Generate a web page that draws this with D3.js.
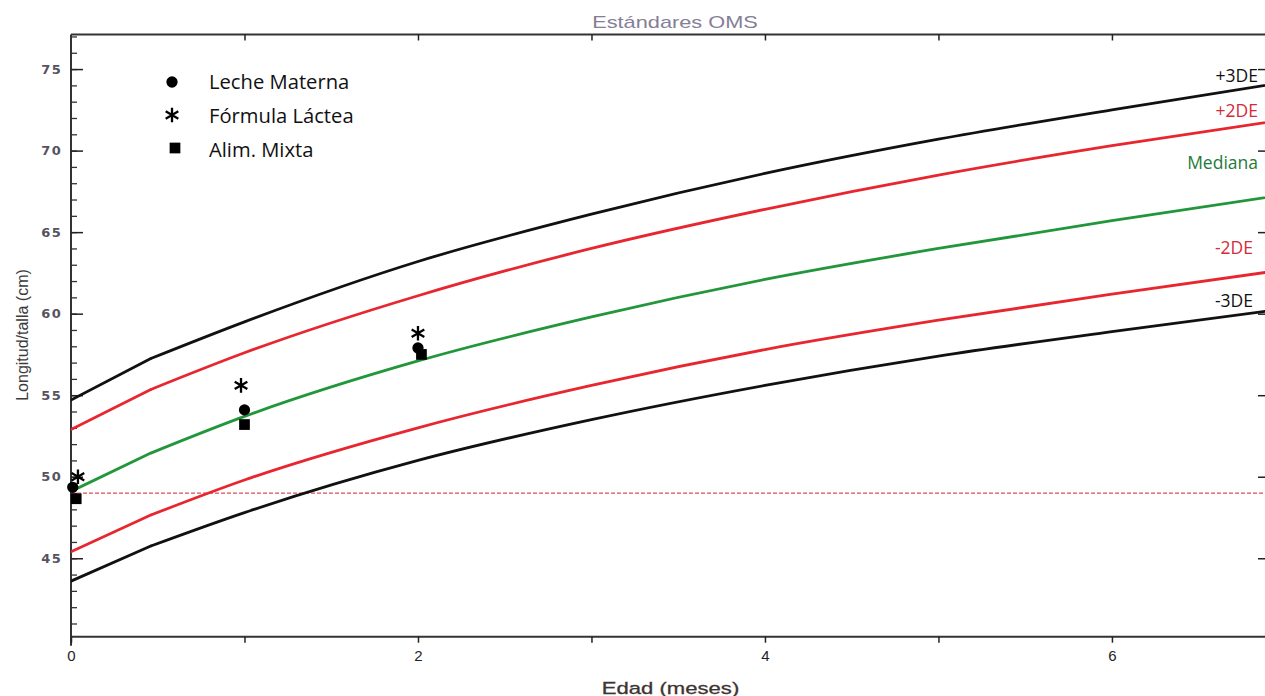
<!DOCTYPE html>
<html><head><meta charset="utf-8">
<script src="https://cdn.jsdelivr.net/npm/d3@7"></script>
<style>html,body{margin:0;padding:0;background:#fff;}svg{display:block;}</style>
</head><body>
<svg id="chart" width="1265" height="696"></svg>
<script>
// ---- Data (WHO length-for-age standards, girls) ----
const ageMonths = [0, 0.46, 1, 2, 3, 4, 5, 6, 7];
const sdNeg3 = [43.6, 45.75, 47.8, 51.0, 53.5, 55.6, 57.4, 58.9, 60.3];
const sdNeg2 = [45.4, 47.65, 49.8, 53.0, 55.6, 57.8, 59.6, 61.2, 62.7];
const median = [49.1, 51.45, 53.7, 57.1, 59.8, 62.1, 64.0, 65.7, 67.3];
const sdPos2 = [52.9, 55.35, 57.6, 61.1, 64.0, 66.4, 68.5, 70.3, 71.9];
const sdPos3 = [54.7, 57.25, 59.5, 63.2, 66.1, 68.6, 70.7, 72.5, 74.2];
const curveNames = ["-3DE", "-2DE", "Mediana", "+2DE", "+3DE"];
const curveColors = ["#111111", "#e8262f", "#22963a", "#e8262f", "#111111"];
const labelColors = ["#111111", "#d42a3a", "#1f7a3a", "#d42a3a", "#111111"];

const refLength = 49.0;

// Observed groups
const groupNames = ["Leche Materna", "Fórmula Láctea", "Alim. Mixta"];
const lecheX = [0.01, 1.0, 2.0];
const lecheY = [49.35, 54.1, 57.9];
const formulaX = [0.04, 0.98, 2.0];
const formulaY = [50.0, 55.6, 58.8];
const mixtaX = [0.03, 1.0, 2.02];
const mixtaY = [48.65, 53.2, 57.5];

const xTickLabels = [0, 2, 4, 6];
const yTickLabels = [45, 50, 55, 60, 65, 70, 75];

// ---- Layout ----
const svg = d3.select("#chart");
const L = 71, R = 1266, T = 34.5, B = 636.7;
const x = d3.scaleLinear().domain([0, 6.888]).range([L, R]);
const y = d3.scaleLinear().domain([40.19, 77.12]).range([B, T]);

svg.append("defs").append("clipPath").attr("id", "clip")
  .append("rect").attr("x", L).attr("y", T).attr("width", R - L).attr("height", B - T);

// Title
svg.append("text").attr("transform", "translate(675,27.5) scale(1.28,1)").attr("text-anchor", "middle")
  .attr("font-family", "Liberation Sans, Arial, sans-serif").attr("font-size", 17)
  .attr("fill", "#857e96").text("Estándares OMS");

// Axis label X
svg.append("text").attr("transform", "translate(670.5,693.5) scale(1.3,1)").attr("text-anchor", "middle")
  .attr("font-family", "Liberation Sans, Arial, sans-serif").attr("font-size", 17)
  .attr("fill", "#3e3432").attr("stroke", "#3e3432").attr("stroke-width", 0.3).text("Edad (meses)");

// Axis label Y
svg.append("text").attr("transform", "translate(28,335) rotate(-90)").attr("text-anchor", "middle")
  .attr("font-family", "Liberation Sans Narrow, Arial Narrow, sans-serif").attr("font-size", 16)
  .attr("fill", "#3a3a3a").text("Longitud/talla (cm)");

// Frame lines
const frame = svg.append("g").attr("stroke", "#333").attr("stroke-width", 2);
frame.append("line").attr("x1", L).attr("x2", L).attr("y1", T).attr("y2", B + 9);
frame.append("line").attr("x1", L).attr("x2", R).attr("y1", B).attr("y2", B);
frame.append("line").attr("x1", L).attr("x2", R).attr("y1", T).attr("y2", T);
frame.append("line").attr("x1", R).attr("x2", R).attr("y1", T).attr("y2", B);

// Left axis (ticks inward)
const leftMinor = d3.axisRight(y).tickValues(d3.range(41, 78, 1)).tickSize(6).tickFormat("");
svg.append("g").attr("transform", `translate(${L},0)`).call(leftMinor)
  .call(g => g.select(".domain").remove())
  .call(g => g.selectAll("line").attr("stroke", "#333").attr("stroke-width", 1.3));
const leftMajor = d3.axisRight(y).tickValues(yTickLabels).tickSize(12).tickFormat("");
svg.append("g").attr("transform", `translate(${L},0)`).call(leftMajor)
  .call(g => g.select(".domain").remove())
  .call(g => g.selectAll("line").attr("stroke", "#222").attr("stroke-width", 1.5));
const leftLabels = d3.axisLeft(y).tickValues(yTickLabels).tickSize(0).tickPadding(9).tickFormat(d3.format("d"));
svg.append("g").attr("transform", `translate(${L},0)`).call(leftLabels)
  .call(g => g.select(".domain").remove())
  .call(g => g.selectAll("text").attr("font-family", "DejaVu Sans, sans-serif").attr("font-size", 13)
    .attr("font-weight", "bold").attr("letter-spacing", "1.3px").attr("fill", "#55535f"));

// Right axis (ticks inward, majors)
const rightMajor = d3.axisLeft(y).tickValues(yTickLabels).tickSize(8).tickFormat("");
svg.append("g").attr("transform", `translate(${R},0)`).call(rightMajor)
  .call(g => g.select(".domain").remove())
  .call(g => g.selectAll("line").attr("stroke", "#222").attr("stroke-width", 1.5));

// Bottom axis (ticks outward)
const bottomAxis = d3.axisBottom(x).tickValues(d3.range(0, 7, 1)).tickSize(6).tickPadding(8)
  .tickFormat(d => xTickLabels.includes(d) ? d : "");
svg.append("g").attr("transform", `translate(0,${B})`).call(bottomAxis)
  .call(g => g.select(".domain").remove())
  .call(g => g.selectAll("line").attr("stroke", "#222").attr("stroke-width", 1.5))
  .call(g => g.selectAll("text").attr("font-family", "Liberation Sans, Arial, sans-serif")
    .attr("font-size", 15).attr("fill", "#1e1e1e"));

// Top axis (ticks inward)
const topAxis = d3.axisBottom(x).tickValues(d3.range(1, 7, 1)).tickSize(6).tickFormat("");
svg.append("g").attr("transform", `translate(0,${T})`).call(topAxis)
  .call(g => g.select(".domain").remove())
  .call(g => g.selectAll("line").attr("stroke", "#222").attr("stroke-width", 1.5));

// Reference dashed line
const plot = svg.append("g").attr("clip-path", "url(#clip)");
plot.append("line").attr("x1", x(0)).attr("x2", x(7)).attr("y1", y(refLength)).attr("y2", y(refLength))
  .attr("stroke", "#d8505a").attr("stroke-width", 1.2).attr("stroke-dasharray", "4,2");

// Curves: linear first segment (birth to 2 weeks), smooth afterwards
const curves = [sdNeg3, sdNeg2, median, sdPos2, sdPos3];
const lineLin = d3.line().x(d => x(d[0])).y(d => y(d[1])).curve(d3.curveLinear);
const lineSm = d3.line().x(d => x(d[0])).y(d => y(d[1])).curve(d3.curveMonotoneX);
curves.forEach((vals, i) => {
  const pts = ageMonths.map((a, j) => [a, vals[j]]);
  plot.append("path").attr("d", lineLin(pts.slice(0, 2))).attr("fill", "none")
    .attr("stroke", curveColors[i]).attr("stroke-width", 2.8).attr("stroke-linecap", "round");
  plot.append("path").attr("d", lineSm(pts.slice(1))).attr("fill", "none")
    .attr("stroke", curveColors[i]).attr("stroke-width", 2.8).attr("stroke-linejoin", "round");
});

// Curve labels (right side)
const labelPos = [
  {i: 4, x: 1258, y: 82}, {i: 3, x: 1258, y: 117}, {i: 2, x: 1258, y: 169},
  {i: 1, x: 1253, y: 254}, {i: 0, x: 1253, y: 307}
];
labelPos.forEach(p => {
  svg.append("text").attr("x", p.x).attr("y", p.y).attr("text-anchor", "end")
    .attr("font-family", "Open Sans, Noto Sans, sans-serif").attr("font-size", 17.5)
    .attr("fill", labelColors[p.i]).text(curveNames[p.i]);
});

// Markers
const sym = (type, size) => d3.symbol().type(type).size(size)();
const marks = svg.append("g");
function drawGroup(xs, ys, type, size, fill, stroke, sw) {
  marks.selectAll(null).data(xs.map((v, j) => [v, ys[j]])).enter().append("path")
    .attr("transform", d => `translate(${x(d[0])},${y(d[1])})`)
    .attr("d", sym(type, size)).attr("fill", fill).attr("stroke", stroke).attr("stroke-width", sw);
}
drawGroup(lecheX, lecheY, d3.symbolCircle, 100, "#000", "none", 0);
drawGroup(mixtaX, mixtaY, d3.symbolSquare, 115, "#000", "none", 0);
drawGroup(formulaX, formulaY, d3.symbolAsterisk, 150, "none", "#000", 2.3);

// Legend
const legend = svg.append("g");
const legItems = [
  {name: groupNames[0], type: d3.symbolCircle, size: 100, fill: "#000", stroke: "none", sw: 0, mx: 172, my: 82, ty: 88.5},
  {name: groupNames[1], type: d3.symbolAsterisk, size: 150, fill: "none", stroke: "#000", sw: 2.3, mx: 172, my: 115, ty: 123},
  {name: groupNames[2], type: d3.symbolSquare, size: 115, fill: "#000", stroke: "none", sw: 0, mx: 175, my: 148, ty: 157}
];
legItems.forEach(it => {
  legend.append("path").attr("transform", `translate(${it.mx},${it.my})`)
    .attr("d", sym(it.type, it.size)).attr("fill", it.fill).attr("stroke", it.stroke).attr("stroke-width", it.sw);
  legend.append("text").attr("x", 209).attr("y", it.ty)
    .attr("font-family", "Open Sans, Noto Sans, sans-serif").attr("font-size", 20.2)
    .attr("fill", "#111").text(it.name);
});
</script>
</body></html>
